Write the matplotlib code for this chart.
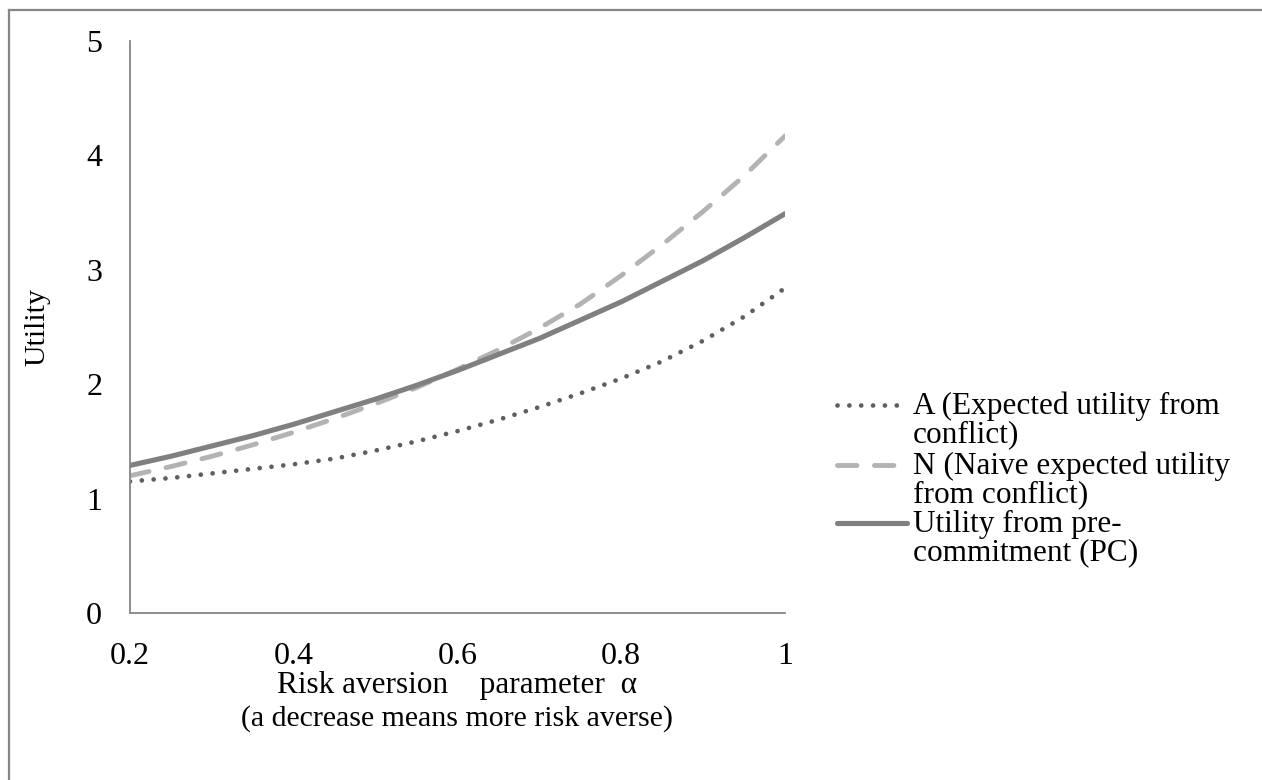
import matplotlib
matplotlib.use("Agg")
import matplotlib.pyplot as plt
from matplotlib.lines import Line2D

plt.rcParams.update({
    "font.family": ["Liberation Serif", "DejaVu Serif"],
    "font.size": 22,
})

# ------------------------------------------------------------------ data
alpha = [0.20, 0.25, 0.30, 0.35, 0.40, 0.45, 0.50, 0.55, 0.60,
         0.65, 0.70, 0.75, 0.80, 0.85, 0.90, 0.95, 1.00]
util_a = [1.15, 1.18, 1.22, 1.26, 1.30, 1.35, 1.42, 1.50, 1.59,
          1.69, 1.80, 1.92, 2.05, 2.20, 2.38, 2.59, 2.84]
util_n = [1.20, 1.28, 1.37, 1.47, 1.58, 1.70, 1.83, 1.97, 2.13,
          2.30, 2.49, 2.70, 2.95, 3.22, 3.51, 3.82, 4.17]
util_pc = [1.29, 1.37, 1.46, 1.55, 1.65, 1.76, 1.87, 1.99, 2.12,
           2.26, 2.40, 2.56, 2.72, 2.90, 3.08, 3.28, 3.49]
legend_lines = [["A (Expected utility from", "conflict)"],
                ["N (Naive expected utility", "from conflict)"],
                ["Utility from pre-", "commitment (PC)"]]
x_ticks = [0.2, 0.4, 0.6, 0.8, 1.0]
x_ticklabels = ["0.2", "0.4", "0.6", "0.8", "1"]
y_ticks = [0, 1, 2, 3, 4, 5]

W, H = 1262, 780
fig = plt.figure(figsize=(W / 100, H / 100), dpi=100)
ax = fig.add_axes([130 / W, 1 - 613 / H, 655 / W, 572 / H])


def fx(px):
    return px / W


def fy(py):
    return 1 - py / H


styles = [
    dict(color="#5f5f5f", lw=3.4, linestyle=(0, (0.01, 2.5)),
         dash_capstyle="round"),
    dict(color="#b3b3b3", lw=3.5, linestyle=(0, (4.0, 3.6)),
         dash_capstyle="round"),
    dict(color="#808080", lw=3.7, solid_capstyle="round"),
]

for series, st in zip([util_a, util_n, util_pc], styles):
    ax.plot(alpha, series, **st)

ax.set_xlim(0.2, 1.0)
ax.set_ylim(0, 5)
ax.set_xticks(x_ticks)
ax.set_xticklabels(x_ticklabels)
ax.set_yticks(y_ticks)
ax.tick_params(length=0, labelsize=23)
ax.tick_params(axis="x", pad=21)
ax.tick_params(axis="y", pad=20)
for s in ("top", "right"):
    ax.spines[s].set_visible(False)
for s in ("left", "bottom"):
    ax.spines[s].set_color("#868686")
    ax.spines[s].set_linewidth(1.3)

ax.set_ylabel("Utility", fontsize=21.5)
ax.yaxis.set_label_coords(-0.122, 0.5)

# x-axis title, two lines
fig.text(fx(457), fy(686), "Risk aversion    parameter  α", fontsize=22.5,
         ha="center", va="center")
fig.text(fx(457), fy(719), "(a decrease means more risk averse)",
         fontsize=21.5, ha="center", va="center")

# legend, handle level with the first text line of each entry
for y_h, st, (l1, l2) in zip([405, 465, 523], styles, legend_lines):
    x_end = 905 if st is not styles[2] else 907
    fig.add_artist(Line2D([fx(837), fx(x_end)], [fy(y_h), fy(y_h)],
                          transform=fig.transFigure, **st))
    fig.text(fx(913), fy(y_h + 9), l1, fontsize=22.5, ha="left",
             va="baseline")
    fig.text(fx(913), fy(y_h + 37), l2, fontsize=22.5, ha="left",
             va="baseline")

# outer chart border (only top and left edges in view)
fig.add_artist(Line2D([fx(8.5), fx(8.5)], [0, fy(9.5)],
                      transform=fig.transFigure, color="#868686", lw=1.6))
fig.add_artist(Line2D([fx(8.5), 1], [fy(9.5), fy(9.5)],
                      transform=fig.transFigure, color="#868686", lw=1.6))

fig.savefig("out.png", dpi=100)
